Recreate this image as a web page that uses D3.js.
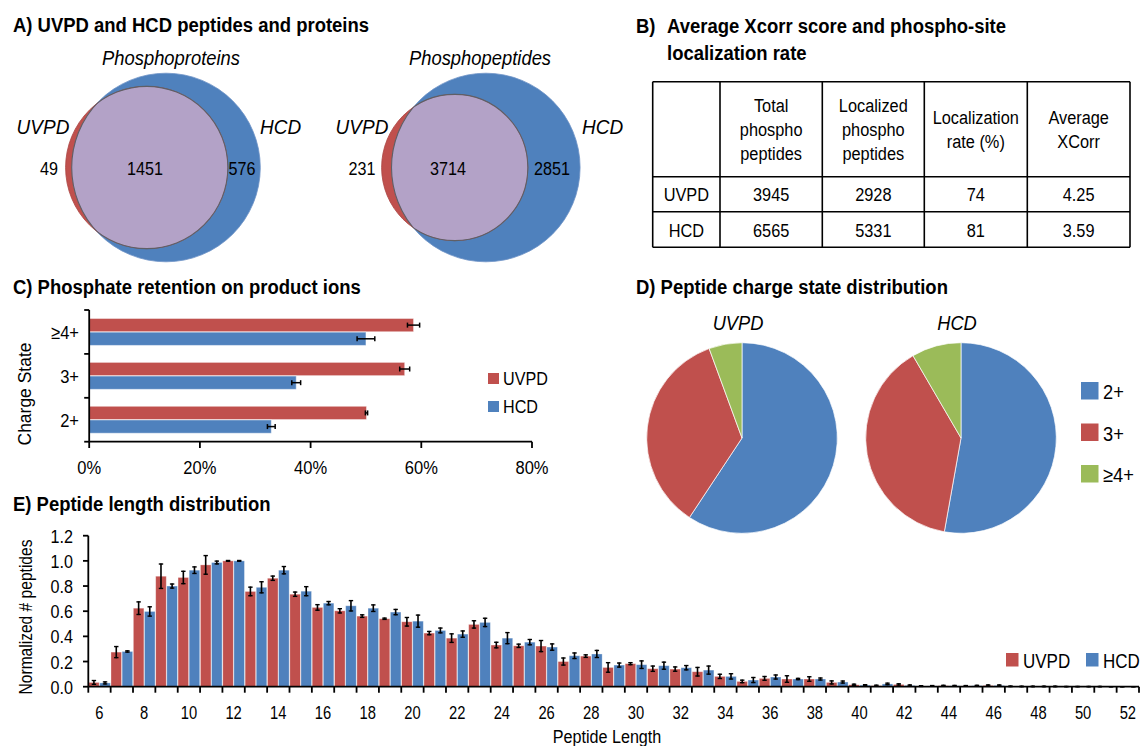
<!DOCTYPE html>
<html>
<head>
<meta charset="utf-8">
<script src="https://cdn.jsdelivr.net/npm/d3@7"></script>
<style>
  body { margin: 0; background: #fff; }
  svg { display: block; font-family: 'Liberation Sans Narrow', 'Arial Narrow', 'Liberation Sans', Arial, sans-serif; }
</style>
</head>
<body>
<svg id="fig" width="1143" height="746"></svg>
<script>
// ---------- A) Venn counts: [UVPD only, shared, HCD only] ----------
const vennSets = ["UVPD", "HCD"];
const proteinCounts = [49, 1451, 576];
const peptideCounts = [231, 3714, 2851];

// ---------- B) Xcorr / localization table ----------
const tableHeaders = [[""], ["Total", "phospho", "peptides"], ["Localized", "phospho", "peptides"], ["Localization", "rate (%)"], ["Average", "XCorr"]];
const tableMethods = ["UVPD", "HCD"];
const totalPeptides = ["3945", "6565"];
const localizedPeptides = ["2928", "5331"];
const localizationRate = ["74", "81"];
const averageXcorr = ["4.25", "3.59"];

// ---------- C) Phosphate retention (%) ----------
const chargeStates = ["≥4+", "3+", "2+"];
const retentionUVPD = [58.6, 57.0, 50.1];
const retentionUVPDErr = [1.1, 0.9, 0.2];
const retentionHCD = [50.0, 37.4, 32.9];
const retentionHCDErr = [1.6, 0.8, 0.7];
const retentionTicks = [0, 20, 40, 60, 80];

// ---------- D) Charge state distribution (%) ----------
const pieLabels = ["2+", "3+", "≥4+"];
const pieUVPD = [59.3, 35.1, 5.6];
const pieHCD = [52.8, 38.8, 8.4];

// ---------- E) Peptide length distribution ----------
const peptideLengths = [6, 7, 8, 9, 10, 11, 12, 13, 14, 15, 16, 17, 18, 19, 20, 21, 22, 23, 24, 25, 26, 27, 28, 29,
  30, 31, 32, 33, 34, 35, 36, 37, 38, 39, 40, 41, 42, 43, 44, 45, 46, 47, 48, 49, 50, 51, 52];
const lengthUVPD = [0.034, 0.275, 0.624, 0.878, 0.868, 0.968, 1.0, 0.757, 0.862, 0.735,
  0.63, 0.603, 0.561, 0.54, 0.516, 0.426, 0.386, 0.495, 0.331, 0.325, 0.323, 0.20,
  0.243, 0.153, 0.183, 0.143, 0.14, 0.119, 0.082, 0.042, 0.066, 0.061, 0.061, 0.034,
  0.015, 0.008, 0.018, 0.005, 0.008, 0.006, 0.01, 0.003, 0.002, 0.002, 0.001, 0.001, 0];
const lengthUVPDErr = [0.015, 0.044, 0.05, 0.097, 0.049, 0.074, 0.003, 0.034, 0.017, 0.017,
  0.022, 0.017, 0.01, 0.005, 0.034, 0.013, 0.034, 0.029, 0.022, 0.013, 0.044, 0.028,
  0.01, 0.038, 0.008, 0.021, 0.017, 0.034, 0.017, 0.01, 0.015, 0.026, 0.018, 0.012,
  0.005, 0.004, 0.005, 0.003, 0.003, 0.003, 0.004, 0.002, 0.002, 0.002, 0.001, 0.001, 0];
const lengthHCD = [0.03, 0.28, 0.598, 0.80, 0.926, 0.987, 1.0, 0.79, 0.926, 0.759,
  0.664, 0.643, 0.624, 0.593, 0.521, 0.447, 0.418, 0.511, 0.386, 0.354, 0.315, 0.246,
  0.26, 0.172, 0.175, 0.167, 0.151, 0.132, 0.082, 0.053, 0.077, 0.061, 0.061, 0.037,
  0.012, 0.022, 0.01, 0.006, 0.007, 0.008, 0.01, 0.002, 0.002, 0.001, 0.001, 0, 0];
const lengthHCDErr = [0.008, 0.005, 0.037, 0.016, 0.026, 0.011, 0.003, 0.044, 0.029, 0.036,
  0.013, 0.041, 0.026, 0.021, 0.048, 0.019, 0.025, 0.033, 0.044, 0.021, 0.025, 0.022,
  0.028, 0.016, 0.03, 0.028, 0.017, 0.032, 0.021, 0.02, 0.016, 0.005, 0.008, 0.008,
  0.004, 0.006, 0.004, 0.003, 0.003, 0.003, 0.004, 0.002, 0.002, 0.001, 0.001, 0, 0];
const lengthTicks = [0, 0.2, 0.4, 0.6, 0.8, 1.0, 1.2];

// ---------- styling ----------
const RED = "#C0504D", BLUE = "#4F81BD", GREEN = "#9BBB59", PURPLE = "#B3A2C7";
const svg = d3.select("#fig");
svg.append("rect").attr("width", 1143).attr("height", 746).attr("fill", "#fff");

// Narrow-style text: a horizontally condensed glyph run anchored at (x, y).
function text(g, x, y, s, o = {}) {
  const sx = o.sx || 0.86;
  const rot = o.rotate ? ` rotate(${o.rotate})` : "";
  return g.append("text")
    .attr("transform", `translate(${x},${y})${rot} scale(${sx},1)`)
    .text(s)
    .attr("font-size", o.size || 19)
    .attr("font-weight", o.bold ? "bold" : null)
    .attr("font-style", o.italic ? "italic" : null)
    .attr("text-anchor", o.anchor || "start")
    .attr("fill", "#000");
}
const TITLE = { bold: true, size: 21, sx: 0.88 };

// ================= A) Venn diagrams =================
const gA = svg.append("g");
text(gA, 13, 32, "A) UVPD and HCD peptides and proteins", TITLE);

const venns = [
  { id: "v1", title: "Phosphoproteins", counts: proteinCounts, hcdX: 166, uvpdX: 146.7, cy: 167.5,
    titleX: 171, uvpdLabelX: 43, hcdLabelX: 260, numX: [49, 145, 242] },
  { id: "v2", title: "Phosphopeptides", counts: peptideCounts, hcdX: 485.8, uvpdX: 454.7, cy: 167.5,
    titleX: 480, uvpdLabelX: 362, hcdLabelX: 582, numX: [362, 448, 552] }
];

venns.forEach(v => {
  const uvpdTotal = v.counts[0] + v.counts[1];
  const hcdTotal = v.counts[1] + v.counts[2];
  // circle areas proportional to set sizes
  const r = d3.scaleSqrt().domain([0, hcdTotal]).range([0, 94.3]);
  const rU = r(uvpdTotal), rH = r(hcdTotal);
  const g = gA.append("g");
  const defs = g.append("defs");
  defs.append("clipPath").attr("id", v.id + "u").append("circle").attr("cx", v.uvpdX).attr("cy", v.cy).attr("r", rU);
  defs.append("clipPath").attr("id", v.id + "h").append("circle").attr("cx", v.hcdX).attr("cy", v.cy).attr("r", rH);

  g.append("circle").attr("cx", v.hcdX).attr("cy", v.cy).attr("r", rH).attr("fill", BLUE)
    .attr("stroke", "#6f93c6").attr("stroke-width", 0.8);
  g.append("circle").attr("cx", v.uvpdX).attr("cy", v.cy).attr("r", rU).attr("fill", RED)
    .attr("stroke", "#a94441").attr("stroke-width", 0.8);
  // overlap region
  g.append("circle").attr("cx", v.hcdX).attr("cy", v.cy).attr("r", rH).attr("fill", PURPLE)
    .attr("clip-path", `url(#${v.id}u)`);
  g.append("circle").attr("cx", v.hcdX).attr("cy", v.cy).attr("r", rH).attr("fill", "none")
    .attr("stroke", "#5f5f66").attr("stroke-width", 1.1).attr("clip-path", `url(#${v.id}u)`);
  g.append("circle").attr("cx", v.uvpdX).attr("cy", v.cy).attr("r", rU).attr("fill", "none")
    .attr("stroke", "#5f5f66").attr("stroke-width", 1.1).attr("clip-path", `url(#${v.id}h)`);

  text(g, v.titleX, 65, v.title, { italic: true, anchor: "middle", size: 20, sx: 0.92 });
  text(g, v.uvpdLabelX, 134, vennSets[0], { italic: true, anchor: "middle", size: 20, sx: 0.95 });
  text(g, v.hcdLabelX, 134, vennSets[1], { italic: true, size: 20, sx: 0.95 });
  v.counts.forEach((c, i) => text(g, v.numX[i], 175, c, { anchor: "middle", size: 19, sx: 0.85 }));
});

// ================= B) Table =================
const gB = svg.append("g");
text(gB, 636, 33, "B)", TITLE);
text(gB, 667, 33, "Average Xcorr score and phospho-site", TITLE);
text(gB, 667, 60, "localization rate", TITLE);

const colEdges = [652.7, 720, 822.3, 924.3, 1027.3, 1130];
const rowEdges = [81.7, 176.7, 211.7, 247.3];
colEdges.forEach(x => gB.append("line").attr("x1", x).attr("x2", x).attr("y1", rowEdges[0]).attr("y2", rowEdges[3])
  .attr("stroke", "#000").attr("stroke-width", 1.6));
rowEdges.forEach(y => gB.append("line").attr("x1", colEdges[0]).attr("x2", colEdges[5]).attr("y1", y).attr("y2", y)
  .attr("stroke", "#000").attr("stroke-width", 1.6));
const colMid = i => (colEdges[i] + colEdges[i + 1]) / 2;
tableHeaders.forEach((lines, i) => {
  const lh = 24;
  const y0 = (rowEdges[0] + rowEdges[1]) / 2 - (lines.length - 1) * lh / 2 + 7;
  lines.forEach((l, k) => text(gB, colMid(i), y0 + k * lh, l, { anchor: "middle", size: 19, sx: 0.86 }));
});
const tableCols = [tableMethods, totalPeptides, localizedPeptides, localizationRate, averageXcorr];
tableMethods.forEach((m, r) => {
  const y = (rowEdges[r + 1] + rowEdges[r + 2]) / 2 + 7;
  tableCols.forEach((col, c) => text(gB, colMid(c), y, col[r], { anchor: "middle", size: 19, sx: 0.86 }));
});

// ================= C) Phosphate retention =================
const gC = svg.append("g");
text(gC, 13, 294, "C) Phosphate retention on product ions", TITLE);
const xC = d3.scaleLinear().domain([0, 80]).range([89.2, 532]);
const yC = d3.scaleBand().domain(chargeStates).range([310, 441.7]);
const subC = d3.scaleBand().domain(vennSets).range([0, yC.bandwidth()]).paddingInner(0.03).paddingOuter(0.62);
const seriesC = [
  { name: "UVPD", vals: retentionUVPD, errs: retentionUVPDErr, color: RED },
  { name: "HCD", vals: retentionHCD, errs: retentionHCDErr, color: BLUE }
];
seriesC.forEach(s => {
  chargeStates.forEach((c, i) => {
    const y = yC(c) + subC(s.name);
    gC.append("rect").attr("x", xC(0)).attr("y", y).attr("width", xC(s.vals[i]) - xC(0)).attr("height", subC.bandwidth())
      .attr("fill", s.color).attr("stroke", "#fff").attr("stroke-opacity", 0.45).attr("stroke-width", 1);
    const ym = y + subC.bandwidth() / 2;
    const x1 = xC(s.vals[i] - s.errs[i]), x2 = xC(s.vals[i] + s.errs[i]);
    gC.append("line").attr("x1", x1).attr("x2", x2).attr("y1", ym).attr("y2", ym).attr("stroke", "#000").attr("stroke-width", 1.5);
    [x1, x2].forEach(x => gC.append("line").attr("x1", x).attr("x2", x).attr("y1", ym - 2.5).attr("y2", ym + 2.5)
      .attr("stroke", "#000").attr("stroke-width", 1.5));
  });
});
// axes
const axC = gC.append("g").attr("stroke", "#000").attr("stroke-width", 1.8);
axC.append("line").attr("x1", xC(0)).attr("x2", xC(0)).attr("y1", 310).attr("y2", 441.7);
axC.append("line").attr("x1", xC(0)).attr("x2", xC(80)).attr("y1", 441.7).attr("y2", 441.7);
[...chargeStates.map(c => yC(c)), 441.7].forEach(y =>
  axC.append("line").attr("x1", xC(0) - 5).attr("x2", xC(0)).attr("y1", y).attr("y2", y));
retentionTicks.forEach(t => {
  axC.append("line").attr("x1", xC(t)).attr("x2", xC(t)).attr("y1", 441.7).attr("y2", 448);
  text(gC, xC(t), 474, t + "%", { anchor: "middle", size: 19, sx: 0.87 });
});
chargeStates.forEach(c => text(gC, 79, yC(c) + yC.bandwidth() / 2 + 7, c, { anchor: "end", size: 19, sx: 0.87 }));
text(gC, 31, 394, "Charge State", { anchor: "middle", size: 19, sx: 0.92, rotate: -90 });
seriesC.forEach((s, i) => {
  gC.append("rect").attr("x", 488).attr("y", 373 + i * 28).attr("width", 11).attr("height", 11).attr("fill", s.color);
  text(gC, 503, 385 + i * 28, s.name, { size: 19, sx: 0.85 });
});

// ================= D) Pies =================
const gD = svg.append("g");
text(gD, 636, 294, "D) Peptide charge state distribution", TITLE);
const pieColors = d3.scaleOrdinal().domain(pieLabels).range([BLUE, RED, GREEN]);
const pie = d3.pie().sort(null).value(d => d.v);
const arc = d3.arc().innerRadius(0).outerRadius(95.3);
[{ name: "UVPD", vals: pieUVPD, cx: 742 }, { name: "HCD", vals: pieHCD, cx: 961 }].forEach(p => {
  const g = gD.append("g").attr("transform", `translate(${p.cx},438)`);
  g.selectAll("path").data(pie(pieLabels.map((l, i) => ({ l, v: p.vals[i] })))).join("path")
    .attr("d", arc).attr("fill", d => pieColors(d.data.l)).attr("stroke", "#fff").attr("stroke-width", 0.7);
  text(gD, p.cx - 4, 330, p.name, { italic: true, anchor: "middle", size: 21, sx: 0.87 });
});
pieLabels.forEach((l, i) => {
  const y = 382 + i * 41.5;
  gD.append("rect").attr("x", 1081).attr("y", y).attr("width", 17.5).attr("height", 17.5).attr("fill", pieColors(l));
  text(gD, 1103, y + 17, l, { size: 21, sx: 0.87 });
});

// ================= E) Peptide length distribution =================
const gE = svg.append("g");
text(gE, 13, 511, "E) Peptide length distribution", TITLE);
const xE = d3.scaleBand().domain(peptideLengths).range([88.3, 1139]);
const subE = d3.scaleBand().domain(vennSets).range([0, xE.bandwidth()]).paddingInner(0.05).paddingOuter(0.03);
const yE = d3.scaleLinear().domain([0, 1.2]).range([686.7, 535.7]);
const seriesE = [
  { name: "UVPD", vals: lengthUVPD, errs: lengthUVPDErr, color: RED },
  { name: "HCD", vals: lengthHCD, errs: lengthHCDErr, color: BLUE }
];
seriesE.forEach(s => {
  const g = gE.append("g");
  peptideLengths.forEach((len, i) => {
    const x = xE(len) + subE(s.name), w = subE.bandwidth();
    g.append("rect").attr("x", x).attr("y", yE(s.vals[i])).attr("width", w).attr("height", yE(0) - yE(s.vals[i]))
      .attr("fill", s.color).attr("stroke", "#fff").attr("stroke-opacity", 0.4).attr("stroke-width", 0.8);
  });
});
seriesE.forEach(s => {
  peptideLengths.forEach((len, i) => {
    const xm = xE(len) + subE(s.name) + subE.bandwidth() / 2;
    const y1 = yE(s.vals[i] + s.errs[i]), y2 = yE(Math.max(0, s.vals[i] - s.errs[i]));
    gE.append("line").attr("x1", xm).attr("x2", xm).attr("y1", y1 - 0.6).attr("y2", y2 + 0.6).attr("stroke", "#000").attr("stroke-width", 1.6);
    [y1, y2].forEach(y => gE.append("line").attr("x1", xm - 2.2).attr("x2", xm + 2.2).attr("y1", y).attr("y2", y)
      .attr("stroke", "#000").attr("stroke-width", 1.4));
  });
});
const axE = gE.append("g").attr("stroke", "#000").attr("stroke-width", 1.8);
axE.append("line").attr("x1", 88.3).attr("x2", 88.3).attr("y1", yE(1.2)).attr("y2", yE(0));
axE.append("line").attr("x1", 88.3).attr("x2", 1139).attr("y1", yE(0)).attr("y2", yE(0));
lengthTicks.forEach(t => {
  axE.append("line").attr("x1", 83).attr("x2", 88.3).attr("y1", yE(t)).attr("y2", yE(t));
  text(gE, 73, yE(t) + 7, d3.format(".1f")(t), { anchor: "end", size: 19, sx: 0.85 });
});
[...peptideLengths.map(l => xE(l)), 1139].forEach(x =>
  axE.append("line").attr("x1", x).attr("x2", x).attr("y1", yE(0)).attr("y2", yE(0) + 6));
peptideLengths.filter(l => l % 2 === 0).forEach(l =>
  text(gE, xE(l) + xE.bandwidth() / 2, 719, l, { anchor: "middle", size: 18, sx: 0.82 }));
text(gE, 607, 743, "Peptide Length", { anchor: "middle", size: 19, sx: 0.85 });
text(gE, 32, 617, "Normalized # peptides", { anchor: "middle", size: 19, sx: 0.82, rotate: -90 });
seriesE.forEach((s, i) => {
  const x = 1006 + i * 80;
  gE.append("rect").attr("x", x).attr("y", 653).attr("width", 12.5).attr("height", 13.5).attr("fill", s.color);
  text(gE, x + 17, 668, s.name, { size: 20, sx: 0.85 });
});
</script>
</body>
</html>
